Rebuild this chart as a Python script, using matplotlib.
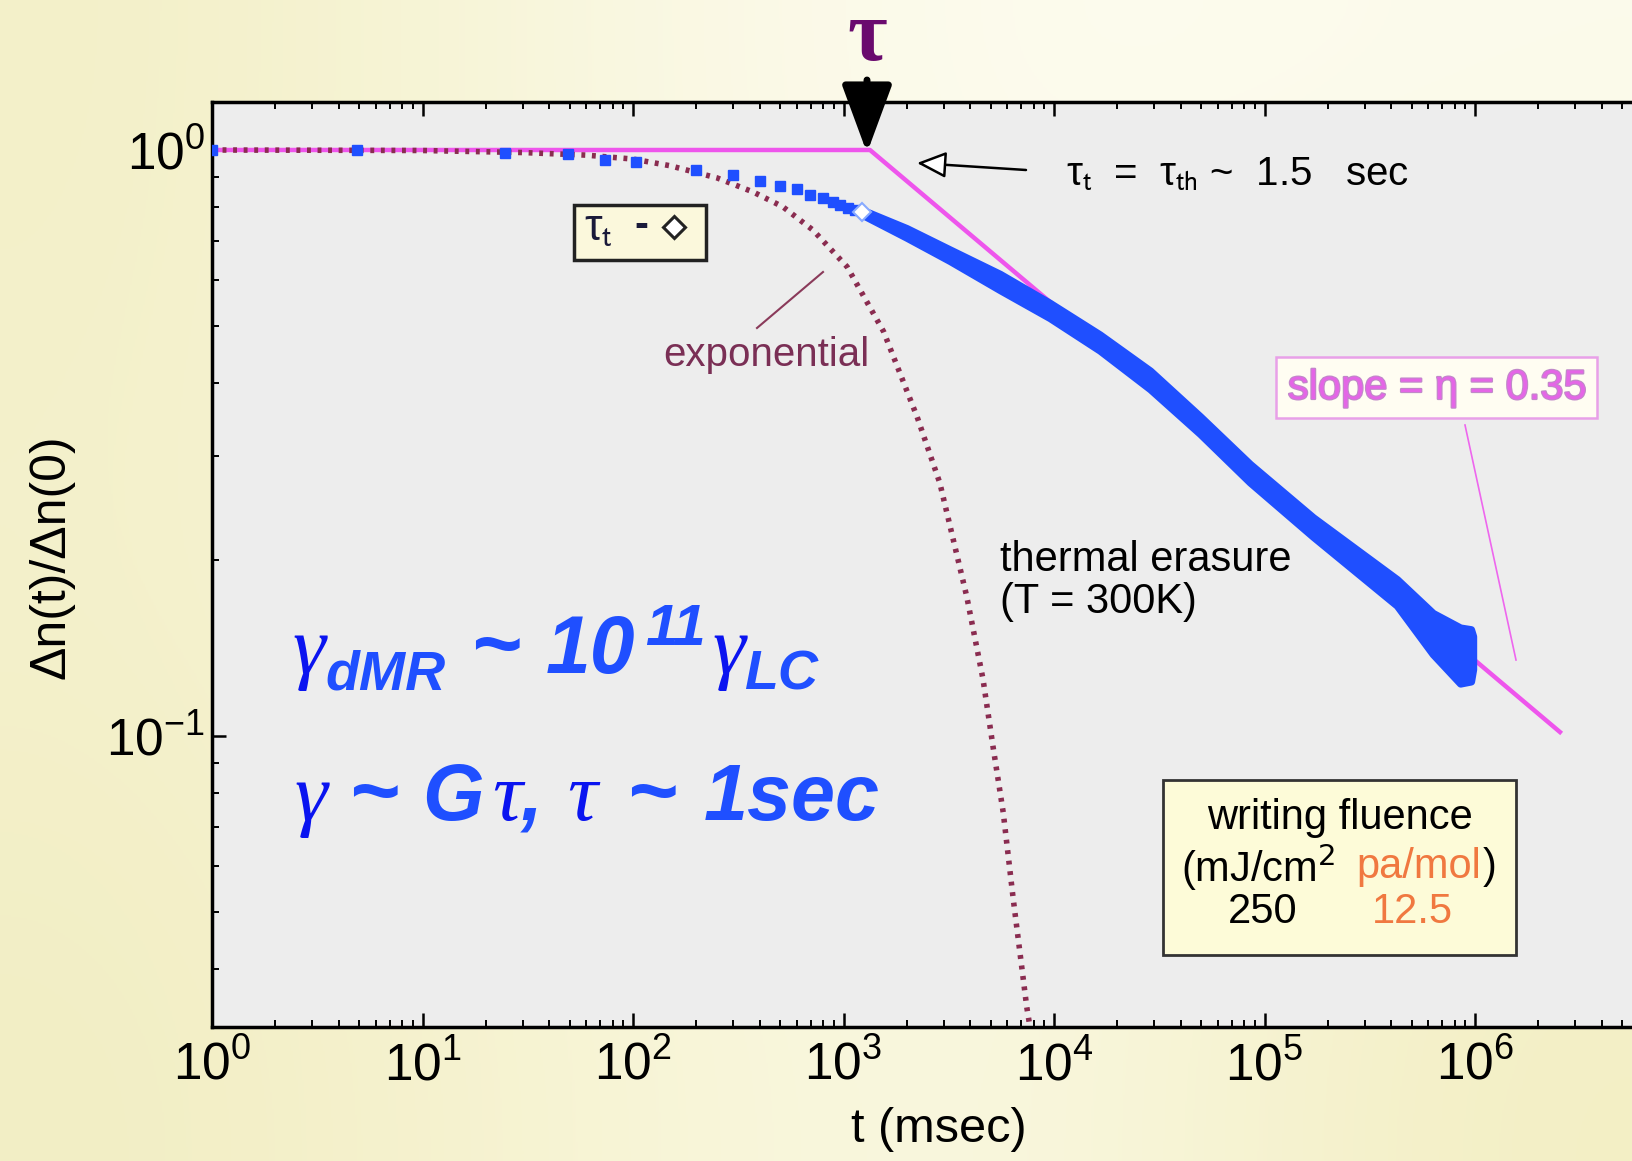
import numpy as np
import matplotlib
matplotlib.use('Agg')
import matplotlib.pyplot as plt
from matplotlib.patches import Rectangle, FancyArrowPatch
from matplotlib.lines import Line2D
import matplotlib.patheffects as pe

# ---- data ----
# pink guide: flat at 1 up to tau, then power-law slope
fit_t = [1, 1336, 2.58e6]
fit_y = [1.0, 1.0, 0.101]

# exponential (dotted)
exp_t = [1, 10, 30, 60, 100, 150, 251, 372, 515, 716, 1040, 1550, 2240,
         2870, 3850, 4600, 5130, 5740, 6390, 7420, 7900]
exp_y = [1.0, 0.998, 0.99, 0.98, 0.965, 0.94, 0.896, 0.848, 0.80, 0.73,
         0.632, 0.49, 0.35, 0.27, 0.173, 0.125, 0.096, 0.074, 0.053,
         0.0345, 0.030]

# sparse early data points (blue squares)
sq_t = [1, 4.9, 24.7, 49, 74, 103, 200, 299, 400, 500, 600, 696, 800, 893,
        960, 1050, 1130]
sq_y = [1.0, 1.0, 0.99, 0.985, 0.96, 0.955, 0.924, 0.906, 0.885, 0.868,
        0.857, 0.838, 0.828, 0.815, 0.806, 0.797, 0.79]

# dense data: upper / lower edge of the thick blue trace
band_t = [1225, 1995, 3200, 5540, 9550, 16500, 28600, 49400, 85300, 170000,
          426000, 631000, 851000, 955000, 977000]
band_hi = [0.790, 0.735, 0.676, 0.614, 0.548, 0.484, 0.420, 0.351, 0.291,
           0.236, 0.185, 0.162, 0.153, 0.152, 0.148]
band_lo = [0.776, 0.709, 0.647, 0.577, 0.517, 0.455, 0.391, 0.328, 0.271,
           0.219, 0.167, 0.138, 0.123, 0.124, 0.130]

tau_t = [1225]
tau_y = [0.784]

W, H = 1632, 1161
def fx(px):
    return px / W
def fy(py):
    return 1 - py / H

blue = '#1f4fff'
greek = '#0a14f0'
pink = '#ee55ec'
maroon = '#8a2c50'
orange = '#f07840'

plt.rcParams['font.family'] = ['Liberation Sans', 'DejaVu Sans']

fig = plt.figure(figsize=(16.32, 11.61), dpi=100)

# pale yellow background
bg = fig.add_axes([0, 0, 1, 1], zorder=-10)
cols = np.array([
    [[243, 240, 200], [250, 248, 226], [253, 252, 240], [252, 251, 236]],
    [[244, 241, 204], [249, 247, 222], [251, 249, 230], [246, 243, 208]],
    [[242, 238, 196], [248, 245, 214], [250, 248, 226], [243, 239, 196]],
]) / 255.0
bg.imshow(cols, aspect='auto', interpolation='bicubic', extent=[0, 1, 0, 1])
bg.set_axis_off()

left = 212 / W
bottom = (H - 1027) / H
width = 7 * 210.5 / W
height = (1027 - 102) / H
ax = fig.add_axes([left, bottom, width, height])
ax.set_facecolor('#ededed')
ax.set_xscale('log')
ax.set_yscale('log')
ax.set_xlim(1, 1e7)
ax.set_ylim(10 ** -1.4966, 10 ** 0.0819)

ax.plot(fit_t, fit_y, color=pink, lw=3.2, zorder=2, solid_capstyle='butt')
ax.plot(exp_t, exp_y, color=maroon, lw=4, ls=(0, (0.7, 1.2)), zorder=3)
ax.plot(sq_t, sq_y, ls='none', marker='s', ms=6.5, color=blue, mec=blue, zorder=4)
ax.fill_between(band_t, band_lo, band_hi, color=blue, lw=5.5, ec=blue,
                joinstyle='round', zorder=4)
ax.plot(tau_t, tau_y, ls='none', marker='D', ms=9, mfc='white', mec='#88aaff',
        mew=1.5, zorder=5)

for s in ax.spines.values():
    s.set_linewidth(2.5)
ax.tick_params(which='both', direction='in', top=True, right=True)
ax.tick_params(which='major', length=10, width=1.8)
ax.tick_params(which='minor', length=5, width=1.4)
ax.tick_params(axis='x', labelsize=37, pad=10)
ax.tick_params(axis='y', labelsize=37, pad=5)
ax.set_xticks([10 ** k for k in range(0, 7)])
ax.set_yticks([0.1, 1])
ax.set_xlabel('t (msec)', fontsize=35)
ax.xaxis.set_label_coords(0.493, -0.086)

fig.text(fx(52), fy(557), 'Δn(t)/Δn(0)', rotation=90, fontsize=36,
         ha='center', va='center')

# tau marker above the axes
fig.text(fx(867), fy(60), 'τ', fontsize=62, color='#6a0a6e', ha='center',
         va='baseline', family='Liberation Serif', weight='bold')
fig.add_artist(FancyArrowPatch(
    (fx(867), fy(80)), (fx(867), fy(153)), transform=fig.transFigure,
    arrowstyle='-|>,head_length=1.9,head_width=0.7', mutation_scale=22,
    color='black', lw=5, shrinkA=0, shrinkB=0))

# arrow to the knee
fig.add_artist(FancyArrowPatch(
    (fx(1026), fy(170)), (fx(917), fy(163)), transform=fig.transFigure,
    arrowstyle='-|>,head_length=1.0,head_width=0.45', mutation_scale=18,
    fc='white', ec='black', lw=1.8, shrinkA=0, shrinkB=0))
fig.text(fx(1066), fy(175), r'τ$_\mathrm{t}$  =  τ$_\mathrm{th}$ ~  1.5   sec',
         fontsize=29, va='center', math_fontfamily='stixsans')

# tau_t legend box
fig.add_artist(Rectangle((fx(574), fy(260)), (706 - 574) / W, 55 / H,
                         transform=fig.transFigure, fc='#fbf8dc', ec='#222222', lw=2.5))
fig.text(fx(584), fy(229), r'τ$_\mathrm{t}$', fontsize=32, ha='left',
         va='center', math_fontfamily='stixsans', color='#1a1a3a')
fig.text(fx(641), fy(226), '-', fontsize=30, ha='center', va='center',
         color='#1a1a3a', weight='bold')
fig.add_artist(Line2D([fx(674)], [fy(227)], transform=fig.transFigure,
                      marker='D', ms=11, mfc='white', mec='#222222', mew=2.2))

# exponential label
fig.text(fx(766), fy(355), 'exponential', fontsize=29, color='#7a2f55',
         ha='center', va='center')
fig.add_artist(Line2D([fx(757), fx(823)], [fy(328), fy(272)],
                      transform=fig.transFigure, color='#8a3a5a', lw=1.5))

# thermal erasure label
fig.text(fx(1000), fy(540), 'thermal erasure\n(T = 300K)', fontsize=30,
         ha='left', va='top', linespacing=1.05)

# slope box
fig.add_artist(Rectangle((fx(1276), fy(418)), (1597 - 1276) / W, 61 / H,
                         transform=fig.transFigure, fc='#fffdf2', ec='#e8a0e8', lw=1.8))
fig.text(fx(1437), fy(388), 'slope = η = 0.35', fontsize=30, color='#e466e6',
         ha='center', va='center',
         path_effects=[pe.withStroke(linewidth=1.6, foreground='#c08ac8')])
fig.add_artist(Line2D([fx(1465), fx(1516)], [fy(425), fy(660)],
                      transform=fig.transFigure, color='#ee66ee', lw=1.2))

# writing fluence box
fig.add_artist(Rectangle((fx(1163), fy(955)), (1516 - 1163) / W, 175 / H,
                         transform=fig.transFigure, fc='#fdfbd8', ec='#333333', lw=2))
fig.text(fx(1340), fy(818), 'writing fluence', fontsize=30, ha='center', va='center')
fig.text(fx(1181), fy(867), r'(mJ/cm$^{2}$', fontsize=30, ha='left', va='center',
         math_fontfamily='dejavusans')
fig.text(fx(1356), fy(867), 'pa/mol', fontsize=30, ha='left', va='center', color=orange)
fig.text(fx(1490), fy(867), ')', fontsize=30, ha='center', va='center')
fig.text(fx(1263), fy(912), '250', fontsize=30, ha='center', va='center')
fig.text(fx(1412), fy(912), '12.5', fontsize=30, ha='center', va='center', color=orange)

# blue overlay formulas, piece by piece (serif greek, bold italic sans rest)
def greek_txt(x, y, s, size=60):
    fig.text(fx(x), fy(y), s, fontsize=size, color=greek, ha='left',
             va='baseline', family='Liberation Serif', style='italic')

def sans_txt(x, y, s, size=57):
    fig.text(fx(x), fy(y), s, fontsize=size, color=blue, ha='left',
             va='baseline', style='italic', weight='bold')

greek_txt(292, 673, 'γ')
sans_txt(325, 690, 'dMR', 40)
sans_txt(470, 673, '~', 62)
sans_txt(546, 673, '10', 58)
sans_txt(645, 645, '11', 42)
greek_txt(712, 673, 'γ')
sans_txt(744, 690, 'LC', 40)

greek_txt(294, 820, 'γ')
sans_txt(348, 820, '~', 62)
sans_txt(422, 820, 'G')
greek_txt(492, 820, 'τ')
sans_txt(521, 820, ',')
greek_txt(567, 820, 'τ')
sans_txt(626, 820, '~', 62)
sans_txt(704, 820, '1sec')

fig.savefig('out.png', dpi=100)
